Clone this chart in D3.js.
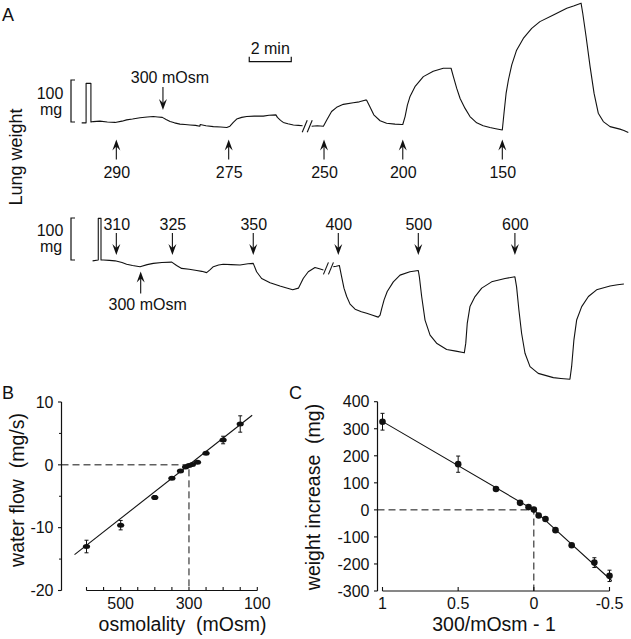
<!DOCTYPE html>
<html><head><meta charset="utf-8">
<script src="https://cdn.jsdelivr.net/npm/d3@7"></script>
<style>
body{margin:0;background:#fff}
svg{display:block}
text{font-family:"Liberation Sans",Arial,Helvetica,sans-serif;fill:#111}
</style>
</head><body><svg id="c" width="631" height="639"></svg>
<script>
// ---------- Panel A data: time (min), lung weight change (mg) ----------
const topTraceA = [[0.08,-2],[0.29,-2],[0.29,92],[0.52,92],[0.52,0],[0.63,1],[0.95,2],[1.3,0],[1.67,-1],[2.0,2],[2.22,5],[2.5,7],[2.86,10],[3.2,12],[3.49,13],[3.7,12],[3.92,11],[4.1,6],[4.29,1],[4.5,-2],[4.76,-5],[5.0,-6],[5.24,-7],[5.5,-8],[5.71,-10],[5.72,-6],[6.0,-9],[6.35,-11],[6.7,-12],[6.99,-13],[7.14,-10],[7.3,-1],[7.46,7],[7.7,11],[7.94,13],[8.3,14],[8.73,14],[9.0,16],[9.33,17],[9.40,11],[9.55,4],[9.68,-1],[9.9,-4],[10.16,-7],[10.4,-8],[10.60,-9]];
const topTraceB = [[11.03,-10],[11.3,-9],[11.59,-10],[11.75,5],[11.98,25],[12.22,35],[12.54,42],[13.01,46],[13.3,48],[13.57,52],[13.65,52],[13.81,36],[13.99,17],[14.29,3],[14.60,-3],[15.0,-5],[15.32,-6],[15.37,-6],[15.48,13],[15.59,40],[15.71,60],[15.95,84],[16.35,108],[16.82,121],[17.30,128],[17.67,128],[17.78,108],[17.94,80],[18.10,56],[18.33,33],[18.57,13],[18.89,-2],[19.2,-9],[19.52,-13],[19.8,-16],[20.11,-19],[20.19,21],[20.29,68],[20.40,100],[20.56,136],[20.79,171],[21.11,199],[21.51,223],[21.90,239],[22.54,255],[23.18,271],[23.5,276],[23.86,283],[23.94,259],[24.10,203],[24.29,132],[24.48,68],[24.68,21],[24.92,1],[25.24,-11],[25.71,-17],[25.9,-20],[26.11,-25]];
const bottomTraceA = [[0.60,-2],[0.87,0],[0.87,99],[1.00,99],[1.00,0],[1.11,0],[1.4,-1],[1.67,-2],[2.0,-6],[2.22,-10],[2.5,-13],[2.86,-16],[3.2,-11],[3.49,-8],[3.9,-6],[4.37,-5],[4.6,-13],[4.84,-20],[5.2,-22],[5.56,-25],[5.8,-27],[6.03,-30],[6.2,-23],[6.35,-16],[6.6,-12],[6.82,-10],[7.2,-11],[7.62,-12],[8.0,-9],[8.25,-8],[8.41,-28],[8.65,-44],[9.05,-54],[9.52,-62],[9.8,-66],[10.13,-71],[10.40,-67],[10.63,-44],[10.87,-28],[11.19,-18],[11.4,-21],[11.59,-24]];
const bottomTraceB = [[12.06,-16],[12.2,-15],[12.35,-13],[12.46,-40],[12.57,-67],[12.70,-87],[12.86,-105],[13.10,-117],[13.4,-123],[13.65,-127],[13.9,-131],[14.20,-136],[14.29,-131],[14.37,-115],[14.48,-95],[14.63,-75],[14.92,-52],[15.24,-36],[15.71,-28],[16.11,-25],[16.16,-40],[16.27,-87],[16.43,-143],[16.67,-179],[16.98,-198],[17.46,-213],[17.9,-217],[18.30,-221],[18.37,-198],[18.44,-151],[18.57,-111],[18.81,-87],[19.13,-67],[19.60,-52],[20.24,-44],[20.71,-40],[20.79,-64],[20.90,-119],[21.03,-175],[21.19,-222],[21.43,-254],[21.82,-270],[22.54,-280],[22.9,-282],[23.33,-284],[23.41,-254],[23.52,-190],[23.65,-143],[23.89,-111],[24.21,-87],[24.60,-71],[25.24,-62],[25.6,-59],[25.90,-57]];
// stimuli (time of solution change, mOsm label)
const topStimTimes = [1.73, 7.08, 11.62, 15.37, 20.11];
const topStimLabels = ["290", "275", "250", "200", "150"];
const topReturnTime = 3.95;
const bottomStimTimes = [1.73, 4.40, 8.25, 12.30, 16.11, 20.71];
const bottomStimLabels = ["310", "325", "350", "400", "500", "600"];
const bottomReturnTime = 2.89;
const returnLabel = "300 mOsm";
const topBreakTime = 10.82, topBreakLevel = -10;
const bottomBreakTime = 11.83, bottomBreakLevel = -20;
const calibrationMg = 100;
const timeBarStart = 8.06, timeBarLength = 2;

// ---------- Panel B data ----------
const osmB = [600, 500, 400, 350, 325, 310, 300, 290, 275, 250, 200, 150];
const flowB = [-13.0, -9.6, -5.2, -2.15, -1.0, -0.35, -0.1, 0.05, 0.4, 1.85, 3.95, 6.5];
const flowErrB = [1.0, 0.75, 0.3, 0.15, 0.1, 0.1, 0.1, 0.1, 0.1, 0.2, 0.6, 1.3];
const fitB = [[635, -14.3], [115, 7.9]];
const xTicksB = [600, 550, 500, 450, 400, 350, 300, 250, 200, 150, 100];
const xLabelsB = [500, 300, 100];
const yTicksB = [10, 0, -10, -20];
const yMinorB = [5, -5, -15];

// ---------- Panel C data ----------
const relC = [1, 0.5, 0.25, 0.091, 0.035, 0, -0.032, -0.077, -0.143, -0.25, -0.4, -0.5];
const weightC = [326, 169, 77, 26, 10, 1, -21, -34, -75, -131, -195, -244];
const weightErrC = [31, 30, 8, 4, 4, 4, 4, 5, 6, 6, 18, 21];
const fitC = [[1.01, 330], [0, 0], [-0.515, -262]];
const xTicksC = [1, 0.5, 0, -0.5];
const yTicksC = [400, 300, 200, 100, 0, -100, -200, -300];

// ---------- drawing ----------
const svg = d3.select("#c");
const ink = "#111";
const NB = "\u00a0";

// Panel A scales
const xA = d3.scaleLinear().domain([0, 26]).range([80, 80 + 26 * 21]);
const yTop = d3.scaleLinear().domain([0, 100]).range([122, 80]);
const yBot = d3.scaleLinear().domain([0, 100]).range([260, 218]);

const gA = svg.append("g");
function trace(data, ys) {
  gA.append("path").datum(data)
    .attr("d", d3.line().x(d => xA(d[0])).y(d => ys(d[1])))
    .attr("fill", "none").attr("stroke", ink).attr("stroke-width", 1.1)
    .attr("stroke-linejoin", "round");
}
trace(topTraceA, yTop); trace(topTraceB, yTop);
trace(bottomTraceA, yBot); trace(bottomTraceB, yBot);

function arrow(x, yTail, yTip) {
  const dir = yTip > yTail ? 1 : -1;
  gA.append("line").attr("x1", x).attr("x2", x).attr("y1", yTail).attr("y2", yTip - dir * 6)
    .attr("stroke", ink).attr("stroke-width", 1.1);
  gA.append("path").attr("d", `M${x},${yTip} L${x - 4},${yTip - dir * 11} L${x},${yTip - dir * 7} L${x + 4},${yTip - dir * 11} Z`)
    .attr("fill", ink);
}
const fs = 16;
function label(x, y, t, anchor) {
  return gA.append("text").attr("x", x).attr("y", y).attr("text-anchor", anchor || "middle")
    .attr("font-size", fs).text(t);
}
// top stimuli (up arrows below trace)
topStimTimes.forEach((t, i) => {
  arrow(xA(t), 159.5, 139.5);
  label(xA(t) + 0.5, 178, topStimLabels[i]);
});
arrow(xA(topReturnTime), 87, 110);
label(xA(topReturnTime) + 7, 83, returnLabel);
// bottom stimuli (down arrows above trace)
bottomStimTimes.forEach((t, i) => {
  arrow(xA(t), 233, 255);
  label(xA(t) + 0.5, 230, bottomStimLabels[i]);
});
arrow(xA(bottomReturnTime), 293.5, 271.5);
label(xA(bottomReturnTime) + 7, 310, returnLabel);

// break marks
function brk(t, lvl, ys) {
  const cx = xA(t), cy = ys(lvl);
  [-2.5, 2.5].forEach(o => {
    gA.append("line").attr("x1", cx + o - 2.5).attr("y1", cy + 6).attr("x2", cx + o + 2.5).attr("y2", cy - 6)
      .attr("stroke", ink).attr("stroke-width", 1.1);
  });
}
brk(topBreakTime, topBreakLevel, yTop);
brk(bottomBreakTime, bottomBreakLevel, yBot);

// calibration brackets
function calib(ys, yText) {
  const x = 71;
  gA.append("path").attr("d", `M${x + 4},${ys(calibrationMg)} H${x} V${ys(0)} H${x + 4}`)
    .attr("fill", "none").attr("stroke", ink).attr("stroke-width", 1.2);
  label(50, yText, String(calibrationMg));
  label(51, yText + 15.5, "mg");
}
calib(yTop, 99);
calib(yBot, 236);

// time scale bar
{
  const x1 = xA(timeBarStart), x2 = xA(timeBarStart + timeBarLength), y = 61.7;
  gA.append("path").attr("d", `M${x1},${y - 5} V${y} H${x2} V${y - 5}`)
    .attr("fill", "none").attr("stroke", ink).attr("stroke-width", 1.2);
  label((x1 + x2) / 2, 53.5, timeBarLength + " min");
}
// Lung weight label
svg.append("text").attr("transform", "translate(22,157) rotate(-90)").attr("text-anchor", "middle")
  .attr("font-size", 18).text("Lung weight");

// panel letters
svg.append("text").attr("x", 2).attr("y", 20.5).attr("font-size", 18).text("A");
svg.append("text").attr("x", 2).attr("y", 398.5).attr("font-size", 18).text("B");
svg.append("text").attr("x", 289).attr("y", 398.5).attr("font-size", 18).text("C");

// ---------- Panel B ----------
const xB = d3.scaleLinear().domain([600, 100]).range([86.5, 257.3]);
const yB = d3.scaleLinear().domain([-20, 10]).range([590.5, 402]);
const gB = svg.append("g");
const axB = 61.5, axBy = 590.5;
gB.append("line").attr("x1", axB).attr("x2", axB).attr("y1", yB(10)).attr("y2", yB(-20)).attr("stroke", ink).attr("stroke-width", 1.2);
yTicksB.forEach(v => {
  gB.append("line").attr("x1", axB - 3.5).attr("x2", axB).attr("y1", yB(v)).attr("y2", yB(v)).attr("stroke", ink).attr("stroke-width", 1.1);
  gB.append("text").attr("x", axB - 8).attr("y", yB(v)).attr("dy", "0.36em").attr("text-anchor", "end").attr("font-size", fs).text(v);
});
yMinorB.forEach(v => {
  gB.append("line").attr("x1", axB - 2.5).attr("x2", axB).attr("y1", yB(v)).attr("y2", yB(v)).attr("stroke", ink).attr("stroke-width", 1);
});
gB.append("line").attr("x1", xB(600)).attr("x2", xB(100)).attr("y1", axBy).attr("y2", axBy).attr("stroke", ink).attr("stroke-width", 1.2);
xTicksB.forEach(v => {
  gB.append("line").attr("x1", xB(v)).attr("x2", xB(v)).attr("y1", axBy).attr("y2", axBy - 3.5).attr("stroke", ink).attr("stroke-width", 1.1);
});
xLabelsB.forEach(v => {
  gB.append("text").attr("x", xB(v)).attr("y", 609).attr("text-anchor", "middle").attr("font-size", fs).text(v);
});
// dashed reference lines
gB.append("path").attr("d", `M${axB},${yB(0)} H${xB(300)} V${axBy}`).attr("fill", "none")
  .attr("stroke", ink).attr("stroke-width", 1).attr("stroke-dasharray", "7,4");
// fit
gB.append("path").datum(fitB).attr("d", d3.line().x(d => xB(d[0])).y(d => yB(d[1])))
  .attr("fill", "none").attr("stroke", ink).attr("stroke-width", 1.1);
// error bars and points
osmB.forEach((o, i) => {
  const x = xB(o), e = flowErrB[i];
  if (e >= 0.3) {
    gB.append("line").attr("x1", x).attr("x2", x).attr("y1", yB(flowB[i] - e)).attr("y2", yB(flowB[i] + e)).attr("stroke", ink).attr("stroke-width", 1);
    [flowB[i] - e, flowB[i] + e].forEach(v => gB.append("line").attr("x1", x - 2).attr("x2", x + 2).attr("y1", yB(v)).attr("y2", yB(v)).attr("stroke", ink).attr("stroke-width", 1));
  }
  gB.append("ellipse").attr("cx", x).attr("cy", yB(flowB[i])).attr("rx", 3.6).attr("ry", 2.5).attr("fill", ink);
});
gB.append("text").attr("transform", "translate(23.5,490) rotate(-90)").attr("text-anchor", "middle").attr("font-size", 19.5).text("water flow" + NB + NB + "(mg/s)");
gB.append("text").attr("x", 182.5).attr("y", 631).attr("text-anchor", "middle").attr("font-size", 19.5).text("osmolality" + NB + NB + "(mOsm)");

// ---------- Panel C ----------
const xC = d3.scaleLinear().domain([1, -0.5]).range([382.5, 609.5]);
const yC = d3.scaleLinear().domain([-300, 400]).range([591, 401.7]);
const gC = svg.append("g");
const axC = 377.5, axCy = 591;
gC.append("line").attr("x1", axC).attr("x2", axC).attr("y1", yC(400)).attr("y2", yC(-300)).attr("stroke", ink).attr("stroke-width", 1.2);
yTicksC.forEach(v => {
  gC.append("line").attr("x1", axC - 3.5).attr("x2", axC).attr("y1", yC(v)).attr("y2", yC(v)).attr("stroke", ink).attr("stroke-width", 1.1);
  gC.append("text").attr("x", axC - 8).attr("y", yC(v)).attr("dy", "0.36em").attr("text-anchor", "end").attr("font-size", fs).text(v);
});
gC.append("line").attr("x1", xC(1)).attr("x2", xC(-0.5)).attr("y1", axCy).attr("y2", axCy).attr("stroke", ink).attr("stroke-width", 1.2);
xTicksC.forEach(v => {
  gC.append("line").attr("x1", xC(v)).attr("x2", xC(v)).attr("y1", axCy).attr("y2", axCy - 4).attr("stroke", ink).attr("stroke-width", 1.1);
  gC.append("text").attr("x", xC(v)).attr("y", 609).attr("text-anchor", "middle").attr("font-size", fs).text(v);
});
gC.append("path").attr("d", `M${axC},${yC(0)} H${xC(0)} V${axCy}`).attr("fill", "none")
  .attr("stroke", ink).attr("stroke-width", 1).attr("stroke-dasharray", "7,4");
gC.append("path").datum(fitC).attr("d", d3.line().x(d => xC(d[0])).y(d => yC(d[1])))
  .attr("fill", "none").attr("stroke", ink).attr("stroke-width", 1.1);
relC.forEach((r, i) => {
  const x = xC(r), e = weightErrC[i];
  if (e >= 10) {
    gC.append("line").attr("x1", x).attr("x2", x).attr("y1", yC(weightC[i] - e)).attr("y2", yC(weightC[i] + e)).attr("stroke", ink).attr("stroke-width", 1);
    [weightC[i] - e, weightC[i] + e].forEach(v => gC.append("line").attr("x1", x - 2).attr("x2", x + 2).attr("y1", yC(v)).attr("y2", yC(v)).attr("stroke", ink).attr("stroke-width", 1));
  }
  gC.append("circle").attr("cx", x).attr("cy", yC(weightC[i])).attr("r", 3.3).attr("fill", ink);
});
gC.append("text").attr("transform", "translate(320,497) rotate(-90)").attr("text-anchor", "middle").attr("font-size", 19.5).text("weight increase" + NB + NB + "(mg)");
gC.append("text").attr("x", 494).attr("y", 631).attr("text-anchor", "middle").attr("font-size", 19.5).text("300/mOsm - 1");
</script></body></html>
